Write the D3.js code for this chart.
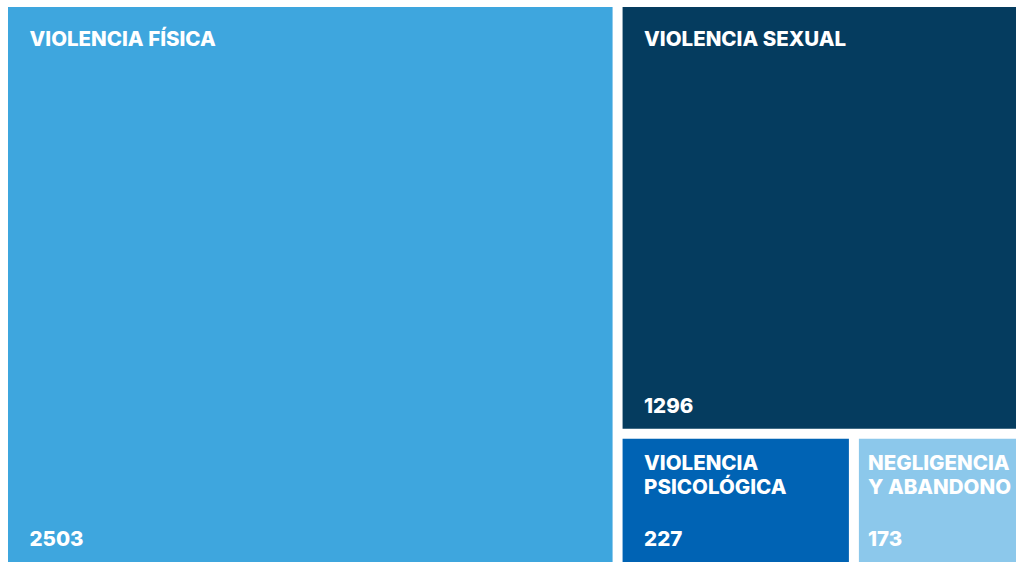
<!DOCTYPE html>
<html>
<head>
<meta charset="utf-8">
<script src="https://cdn.jsdelivr.net/npm/d3@7"></script>
<style>
  html, body { margin: 0; padding: 0; background: #fff; overflow: hidden; }
  svg { display: block; }
  text { font-family: Inter, "Open Sans", sans-serif; font-weight: 800; fill: #fff; }
</style>
</head>
<body>
<script>
// Chart data
var categories = ['VIOLENCIA FÍSICA', 'VIOLENCIA SEXUAL',
  'VIOLENCIA PSICOLÓGICA', 'NEGLIGENCIA Y ABANDONO'];
var labelLines = [['VIOLENCIA FÍSICA'], ['VIOLENCIA SEXUAL'],
  ['VIOLENCIA', 'PSICOLÓGICA'], ['NEGLIGENCIA', 'Y ABANDONO']];
var values = [2503, 1296, 227, 173];
var colors = ['#3ea6de', '#053c5f', '#0063b4', '#8cc8eb'];

var width = 1016, height = 562;

var svg = d3.select('body').append('svg')
  .attr('width', width).attr('height', height);

var root = d3.hierarchy({
  children: categories.map(function(c, i) {
    return { name: c, lines: labelLines[i], value: values[i], color: colors[i] };
  })
}).sum(function(d) { return d.value || 0; });

// The plot runs a little past the right edge of the frame.
d3.treemap()
  .tile(d3.treemapSquarify)
  .size([1021, 555])
  .paddingInner(10)(root);

var ox = 8, oy = 7;
var g = svg.append('g').attr('transform', 'translate(' + ox + ',' + oy + ')');

var cell = g.selectAll('g.cell')
  .data(root.leaves())
  .enter().append('g')
  .attr('class', 'cell')
  .attr('transform', function(d) { return 'translate(' + d.x0 + ',' + d.y0 + ')'; });

cell.append('rect')
  .attr('width', function(d) { return d.x1 - d.x0; })
  .attr('height', function(d) { return d.y1 - d.y0; })
  .attr('fill', function(d) { return d.data.color; });

var fontSize = 20.5, lineH = 24;

cell.each(function(d) {
  var sel = d3.select(this);
  var top = (d.y1 - d.y0) > 300 ? 39 : 31;
  var title = sel.append('text').style('font-size', fontSize + 'px');
  title.selectAll('tspan')
    .data(d.data.lines)
    .enter().append('tspan')
    .attr('x', 0)
    .attr('y', function(l, i) { return top + i * lineH; })
    .text(function(l) { return l; });

  // Shift the label left if it would run out of the visible frame.
  var tw = title.node().getBBox().width;
  var visRight = Math.min(d.x1, width - ox) - d.x0;
  var tx = Math.min(21.5, visRight - tw - 5);
  title.selectAll('tspan').attr('x', tx);

  var visBottom = Math.min(d.y1, height - oy) - d.y0;
  sel.append('text')
    .style('font-size', fontSize + 'px')
    .attr('x', tx)
    .attr('y', visBottom - 16)
    .text(d.data.value);
});
</script>
</body>
</html>
